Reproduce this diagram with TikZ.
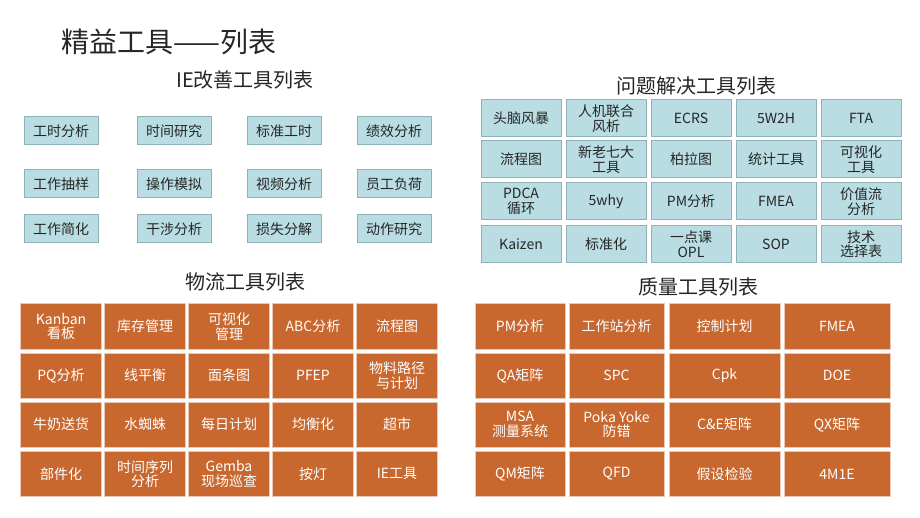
\documentclass[tikz,border=0pt]{standalone}
\usepackage{fontspec}
\setmainfont{Noto Sans CJK SC}
\definecolor{tealf}{HTML}{B9DDE2}
\definecolor{teald}{HTML}{8DB3B9}
\definecolor{orf}{HTML}{C8682F}
\definecolor{ord}{HTML}{E9C9B5}
\begin{document}
\begin{tikzpicture}[x=1pt,y=-1pt,
  tb/.style={draw=teald,line width=1pt,fill=tealf,inner sep=0pt,align=center,font=\fontsize{14}{14.5}\selectfont,text=black!85},
  ob/.style={draw=ord,line width=1pt,fill=orf,inner sep=0pt,align=center,font=\fontsize{14}{14.5}\selectfont,text=white},
  ttl/.style={font=\fontsize{20}{21}\selectfont,text=black!85}]
\useasboundingbox[fill=white] (0,0) rectangle (920,518);
\node[font=\fontsize{28}{29}\selectfont,anchor=west,text=black!85,inner sep=0pt] (t0) at (61,42) {精益工具——列表};
\node[ttl] (t1) at (245,80) {IE改善工具列表};
\node[ttl] (t2) at (696,86) {问题解决工具列表};
\node[ttl] (t3) at (245,282) {物流工具列表};
\node[ttl] (t4) at (698,287) {质量工具列表};
% IE
\foreach \r/\y/\lab in {0/131/{工时分析,时间研究,标准工时,绩效分析},
  1/184/{工作抽样,操作模拟,视频分析,员工负荷},
  2/229/{工作简化,干涉分析,损失分解,动作研究}}{
 \foreach [count=\c] \t in \lab {
  \ifcase\c\or\def\xx{61}\or\def\xx{174}\or\def\xx{284}\or\def\xx{394}\fi
  \node[tb,minimum width=74,minimum height=28] (ie\r\c) at (\xx,\y) {\t};
 }}
% Problem solving
\foreach \r/\y/\lab in {0/118.5/{头脑风暴,人机联合\\风析,ECRS,5W2H,FTA},
  1/159.5/{流程图,新老七大\\工具,柏拉图,统计工具,可视化\\工具},
  2/201.5/{PDCA\\循环,5why,PM分析,FMEA,价值流\\分析},
  3/244/{Kaizen,标准化,一点课\\OPL,SOP,技术\\选择表}}{
 \foreach [count=\c] \t in \lab {
  \pgfmathsetmacro\xx{436+85*\c}
  \node[tb,minimum width=80,minimum height=37] (ps\r\c) at (\xx,\y) {\t};
 }}
% Logistics
\foreach \r/\y/\lab in {0/326.5/{Kanban\\看板,库存管理,可视化\\管理,ABC分析,流程图},
  1/375.5/{PQ分析,线平衡,面条图,PFEP,物料路径\\与计划},
  2/424.5/{牛奶送货,水蜘蛛,每日计划,均衡化,超市},
  3/474/{部件化,时间序列\\分析,Gemba\\现场巡查,按灯,IE工具}}{
 \foreach [count=\c] \t in \lab {
  \pgfmathsetmacro\xx{-23+84*\c}
  \node[ob,minimum width=81,minimum height=45] (lg\r\c) at (\xx,\y) {\t};
 }}
% Quality
\foreach \r/\y/\lab in {0/326.5/{PM分析,工作站分析,控制计划,FMEA},
  1/375.5/{QA矩阵,SPC,Cpk,DOE},
  2/424.5/{MSA\\测量系统,Poka Yoke\\防错,C\&E矩阵,QX矩阵},
  3/474/{QM矩阵,QFD,假设检验,4M1E}}{
 \foreach [count=\c] \t in \lab {
  \ifcase\c\or\def\xa{475}\def\xb{565}\or\def\xa{569}\def\xb{664}\or\def\xa{669}\def\xb{780}\or\def\xa{784}\def\xb{890}\fi
  \pgfmathsetmacro\xx{(\xa+\xb)/2}\pgfmathsetmacro\ww{\xb-\xa}
  \node[ob,minimum width=\ww,minimum height=45] (ql\r\c) at (\xx,\y) {\t};
 }}
\end{tikzpicture}
\end{document}
